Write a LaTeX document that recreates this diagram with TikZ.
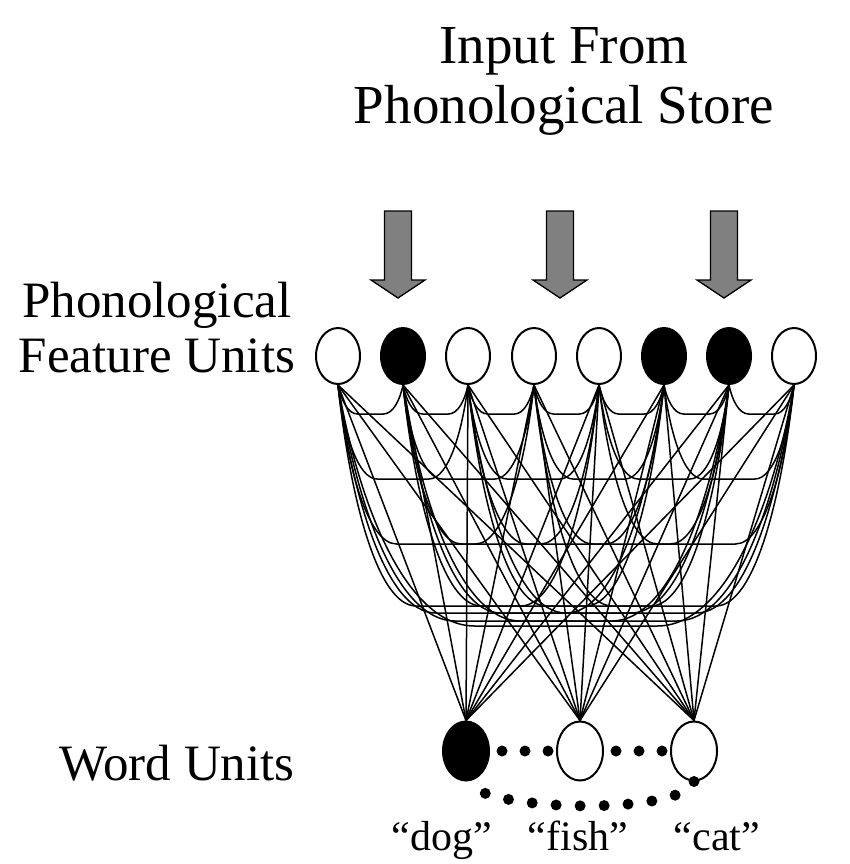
\documentclass[tikz,border=0pt]{standalone}
\usepackage{fontspec}
\setmainfont{Liberation Serif}
\usetikzlibrary{calc,shapes.geometric}

\begin{document}
\begin{tikzpicture}[
    x=1pt, y=-1pt,
    feat/.style={draw, ellipse, line width=2pt, minimum width=44pt, minimum height=56pt, inner sep=0pt, fill=white},
    word/.style={feat, minimum width=46pt, minimum height=59pt},
    active/.style={fill=black},
    link/.style={line width=1.5pt},
    lateral/.style={line width=1.5pt},
    dotlink/.style={line width=11pt, line cap=round, dash pattern=on 0pt off 23pt},
    inarrow/.style={draw, line width=1.3pt, fill=gray, line join=miter},
    lab/.style={font=\fontsize{51}{55}\selectfont, align=center, inner sep=0pt, anchor=base},
    quote/.style={font=\fontsize{42}{46}\selectfont, inner sep=0pt, anchor=base}
]
  \useasboundingbox (0,0) rectangle (850,864);

  % Title
  \node[font=\fontsize{55}{60}\selectfont, align=center, inner sep=0pt, anchor=base] (title) at (564,124) {Input From\\Phonological Store};

  % Input arrows
  \foreach \x in {398,560,724}
    \draw[inarrow] (\x-13.5,211) -- (\x+13.5,211) -- (\x+13.5,280) -- (\x+27,280) -- (\x,298) -- (\x-27,280) -- (\x-13.5,280) -- cycle;

  % Feature units
  \node[lab] (featlab) at (157,372) {Phonological\\Feature Units};
  \node[feat] (f1) at (338,356) {};
  \node[feat, active] (f2) at (403,356) {};
  \node[feat] (f3) at (468,356) {};
  \node[feat] (f4) at (534,356) {};
  \node[feat] (f5) at (599,356) {};
  \node[feat, active] (f6) at (664,356) {};
  \node[feat, active] (f7) at (729,356) {};
  \node[feat] (f8) at (794,356) {};

  % Word units
  \node[lab] (wordlab) at (177,780) {Word Units};
  \node[word, active] (w1) at (466,751) {};
  \node[word] (w2) at (580,751) {};
  \node[word] (w3) at (694,751) {};
  \node[quote] (ldog) at (442,850) {“dog”};
  \node[quote] (lfish) at (578,850) {“fish”};
  \node[quote] (lcat) at (717,850) {“cat”};

  % Lateral connections
  \foreach \i in {1,...,7} {
    \pgfmathtruncatemacro\k{\i+1}
    \foreach \j in {\k,...,8} {
      \pgfmathtruncatemacro\dist{\j-\i}
      \pgfmathsetmacro\dep{{0,29,94,159,221,228,236,241}[\dist]}
      \pgfmathsetmacro\ext{0.3*65.1*\dist}
      \draw[lateral] (f\i.south) .. controls +(0.15*\ext,0.5*\dep) and +(-0.5*\ext,0) .. ($(f\i.south)+(\ext,\dep)$)
        -- ($(f\j.south)+(-\ext,\dep)$) .. controls +(0.5*\ext,0) and +(-0.15*\ext,0.5*\dep) .. (f\j.south);
    }
  }

  % Feature to word links
  \foreach \i in {1,...,8}
    \foreach \w in {w1,w2,w3}
      \draw[link] (f\i.south) -- (\w.north);

  % Word competition
  \draw[dotlink, dash phase=11pt] (w1.east) -- (w2.west);
  \draw[dotlink, dash phase=11pt] (w2.east) -- (w3.west);
  \draw[dotlink, dash pattern=on 0pt off 24pt] (w3.south) .. controls +(-12,34) and +(20,31) .. (w1.south);
\end{tikzpicture}
\end{document}
